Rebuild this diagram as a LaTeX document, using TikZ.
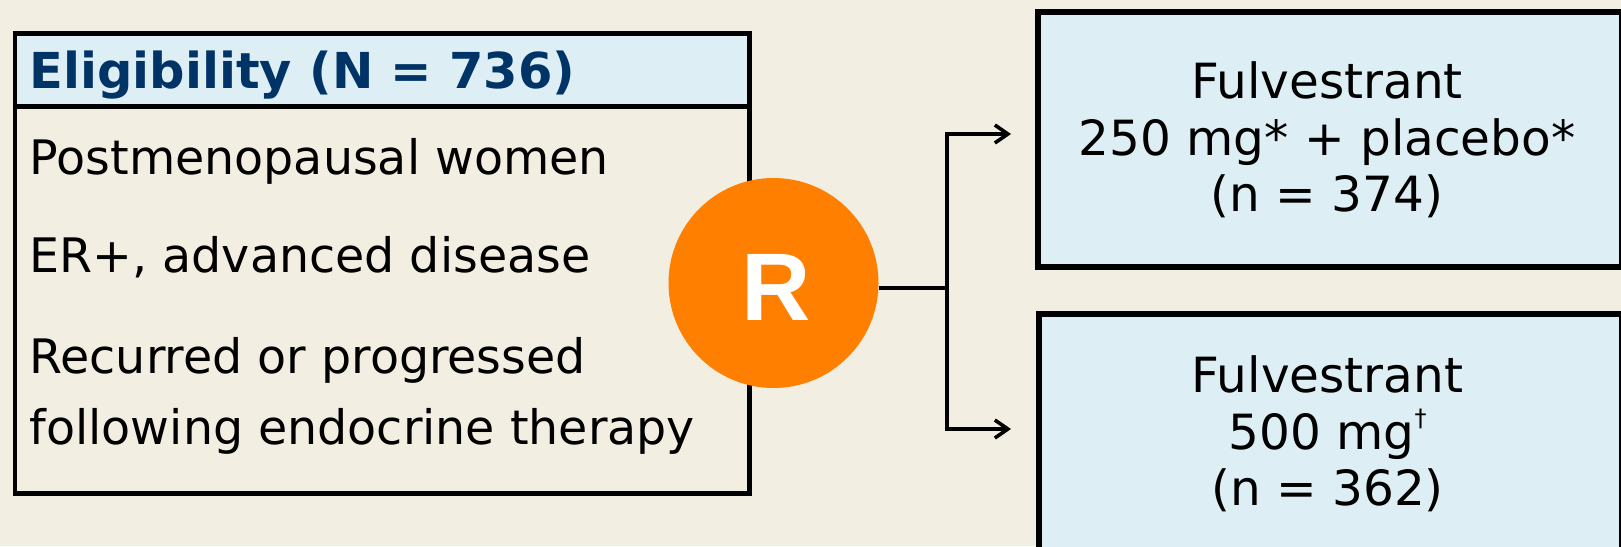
\documentclass[tikz,border=0pt]{standalone}
\usepackage{fontspec}
\setmainfont{DejaVu Sans}
\newfontfamily\rfont{Liberation Sans}
\usetikzlibrary{arrows.meta}
\definecolor{bgc}{RGB}{242,238,225}
\definecolor{boxblue}{RGB}{221,238,244}
\definecolor{navy}{RGB}{0,51,102}
\definecolor{rorange}{RGB}{255,127,0}
\begin{document}
\begin{tikzpicture}[x=1pt,y=-1pt,
  txt/.style={anchor=base west, inner sep=0pt, font=\fontsize{47.5}{57}\selectfont},
  htxt/.style={anchor=base west, inner sep=0pt, text=navy, font=\fontsize{49.5}{57}\selectfont\bfseries},
  ctxt/.style={anchor=base, inner sep=0pt, font=\fontsize{48.5}{57}\selectfont},
  armbox/.style={draw=black, line width=6pt, fill=boxblue, inner sep=0pt, anchor=north west},
  conn/.style={line width=3.6pt, black},
  tip/.style={-{Straight Barb[length=13pt,width=18pt]}},
  ]
\fill[bgc] (0,0) rectangle (1621,546);
\useasboundingbox (0,0) rectangle (1621,546);
\begin{scope}
\clip (0,0) rectangle (1621,546);
% eligibility box
\node[fill=boxblue, minimum width=734.5pt, minimum height=75pt, inner sep=0pt, anchor=north west] (head) at (12.5,31) {};
\node[draw=black, line width=4.5pt, minimum width=734.5pt, minimum height=460pt, inner sep=0pt, anchor=north west] (elig) at (12.5,31) {};
\draw[line width=4.5pt] (head.south west) -- (head.south east);
\node[htxt] (h0) at (29.5,88) {Eligibility (N = 736)};
\node[txt] (l1) at (29.5,174) {Postmenopausal women};
\node[txt] (l2) at (29.5,272) {ER+, advanced disease};
\node[txt] (l3) at (29.5,373) {Recurred or progressed};
\node[txt] (l4) at (29.5,444) {following endocrine therapy};
% arm boxes
\node[armbox, minimum width=584pt, minimum height=255.5pt] (arm1) at (1035,8.5) {};
\node[armbox, minimum width=583pt, minimum height=300pt] (arm2) at (1036,310.5) {};
\node[ctxt] (a1l1) at (1327,98) {Fulvestrant};
\node[ctxt] (a1l2) at (1327,155) {250 mg* + placebo*};
\node[ctxt] (a1l3) at (1327,211) {(n = 374)};
\node[ctxt] (a2l1) at (1327.5,392) {Fulvestrant};
\node[ctxt] (a2l2) at (1327.5,449) {500 mg\raisebox{23pt}{\fontsize{24}{24}\selectfont †}};
\node[ctxt] (a2l3) at (1327.5,505) {(n = 362)};
% connectors
\coordinate (split) at (947,287.7);
\coordinate (e1) at (1011,134);
\coordinate (e2) at (1011,429);
\node[circle, fill=rorange, minimum size=210pt, inner sep=0pt] (R) at (773.5,283) {};
\node[inner sep=0pt, text=white, font=\rfont\bfseries\fontsize{96}{96}\selectfont] (Rl) at (776,287.5) {R};
\draw[conn] (split -| R.east) -- (split);
\draw[conn, tip] (split) |- (e1);
\draw[conn, tip] (split) |- (e2);
\end{scope}
\end{tikzpicture}
\end{document}
